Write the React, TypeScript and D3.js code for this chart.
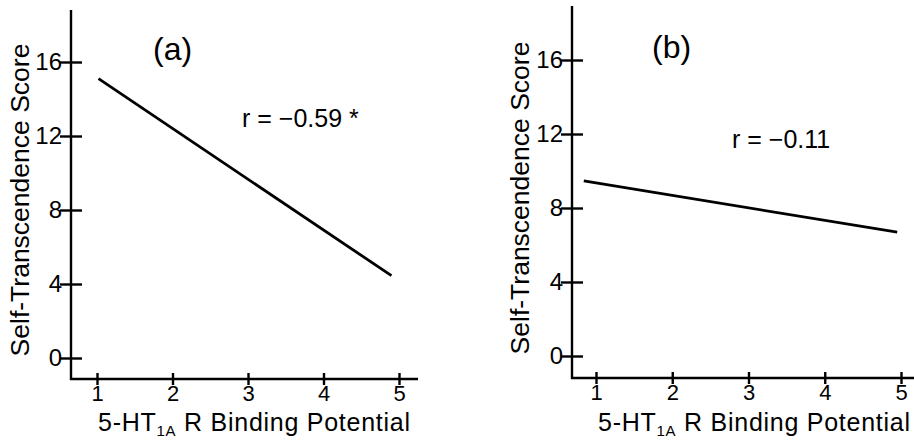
import * as d3 from "d3";
import { useEffect, useRef } from "react";

// tick values
const xTicks = [1, 2, 3, 4, 5];
const yTicks = [0, 4, 8, 12, 16];

// panel texts
const panelNames = ["(a)", "(b)"];
const rTexts = ["r = \u22120.59 *", "r = \u22120.11"];

// regression line end points [bp, score]
const fitA: [number, number][] = [[1.02, 15.1], [4.9, 4.45]];
const fitB: [number, number][] = [[0.84, 9.46], [4.95, 6.69]];
const fits = [fitA, fitB];

const W = 914, H = 441;
const FONT = "'Liberation Sans', Arial, Helvetica, sans-serif";

// layout per panel (pixel positions of the frame)
const layouts = [
    { axisX: 71, axisY: 379, top: 10, right: 418, x1: 97, x5: 399, y0: 358, y16: 62,
      titleX: 29, titleMid: 200, xTitleX: 98, nameX: 153, nameY: 60, rX: 242, rY: 127 },
    { axisX: 572, axisY: 378, top: 6, right: 914, x1: 596, x5: 901, y0: 356, y16: 60,
      titleX: 529, titleMid: 198, xTitleX: 598, nameX: 652, nameY: 58, rX: 732, rY: 148 },
];

export default function App() {
    const ref = useRef<SVGSVGElement>(null);

    useEffect(() => {
        const svg = d3.select(ref.current);
        svg.selectAll("*").remove();

        layouts.forEach((L, i) => {
            const x = d3.scaleLinear().domain([1, 5]).range([L.x1, L.x5]);
            const y = d3.scaleLinear().domain([0, 16]).range([L.y0, L.y16]);
            const g = svg.append("g");

            // --- axis lines ---
            g.append("line")
                .attr("x1", L.axisX).attr("x2", L.axisX)
                .attr("y1", L.top).attr("y2", L.axisY + 1)
                .attr("stroke", "#000").attr("stroke-width", 2.4);
            g.append("line")
                .attr("x1", L.axisX - 1).attr("x2", L.right)
                .attr("y1", L.axisY).attr("y2", L.axisY)
                .attr("stroke", "#000").attr("stroke-width", 2.4);

            // --- Y axis ticks (cross the axis) ---
            g.append("g")
                .attr("transform", `translate(${L.axisX},0)`)
                .call(d3.axisLeft(y).tickValues(yTicks).tickSize(11).tickPadding(0).tickFormat(d3.format("d")))
                .call(a => a.select(".domain").remove())
                .call(a => a.selectAll(".tick line").attr("x1", 11).attr("stroke", "#000").attr("stroke-width", 2.4))
                .call(a => a.selectAll(".tick text")
                    .attr("fill", "#000")
                    .attr("font-family", FONT)
                    .attr("font-size", 24)
                    .attr("x", -9));

            // --- X axis ticks ---
            g.append("g")
                .attr("transform", `translate(0,${L.axisY})`)
                .call(d3.axisBottom(x).tickValues(xTicks).tickSize(6).tickFormat(d3.format("d")))
                .call(a => a.select(".domain").remove())
                .call(a => a.selectAll(".tick line").attr("y1", -6).attr("stroke", "#000").attr("stroke-width", 2.4))
                .call(a => a.selectAll(".tick text")
                    .attr("fill", "#000")
                    .attr("font-family", FONT)
                    .attr("font-size", 22)
                    .attr("y", 6));

            // --- regression line ---
            g.append("path")
                .datum(fits[i])
                .attr("fill", "none")
                .attr("stroke", "#000")
                .attr("stroke-width", 2.8)
                .attr("d", d3.line<[number, number]>().x(d => x(d[0])).y(d => y(d[1])));

            // --- texts ---
            g.append("text")
                .attr("x", L.nameX).attr("y", L.nameY)
                .attr("font-family", FONT).attr("font-size", 32)
                .text(panelNames[i]);

            g.append("text")
                .attr("x", L.rX).attr("y", L.rY)
                .attr("font-family", FONT).attr("font-size", 25)
                .attr("xml:space", "preserve")
                .text(rTexts[i]);

            const xt = g.append("text")
                .attr("x", L.xTitleX).attr("y", 431)
                .attr("font-family", FONT).attr("font-size", 25)
                .attr("textLength", 312)
                .attr("lengthAdjust", "spacing");
            xt.append("tspan").text("5-HT");
            xt.append("tspan").attr("font-size", 15).attr("dy", 5).text("1A");
            xt.append("tspan").attr("dy", -5).text(" R Binding Potential");

            g.append("text")
                .attr("transform", `translate(${L.titleX},${L.titleMid}) rotate(-90)`)
                .attr("text-anchor", "middle")
                .attr("font-family", FONT).attr("font-size", 26.5)
                .text("Self-Transcendence Score");
        });
    }, []);

    return (
        <svg ref={ref} width={W} height={H}
            style={{ position: "absolute", left: 0, top: 0, background: "#fff" }} />
    );
}
